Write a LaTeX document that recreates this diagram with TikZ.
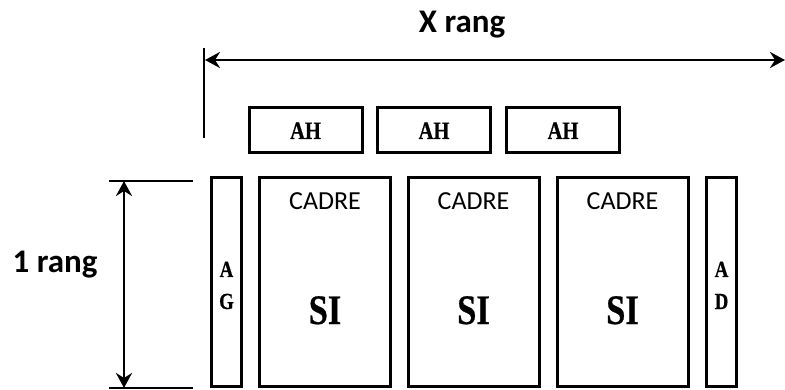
\documentclass[tikz,border=0pt]{standalone}
\usepackage{fontspec}
\setmainfont{Carlito}
\newfontfamily\serifb[FakeStretch=0.82,FakeBold=0.6]{Liberation Serif Bold}
\usetikzlibrary{arrows.meta}
\begin{document}
\begin{tikzpicture}[x=1pt,y=-1pt,
  box/.style={draw,line width=3pt,inner sep=0pt},
  sidebox/.style={box,minimum width=30pt,minimum height=209pt},
  cadrebox/.style={box,minimum width=131pt,minimum height=209pt},
  ahbox/.style={box,minimum width=113pt,minimum height=45pt},
  cadretxt/.style={anchor=base,inner sep=0pt,font=\fontsize{26}{30}\selectfont},
  sitxt/.style={anchor=base,inner sep=0pt,font=\serifb\fontsize{42}{48}\selectfont},
  ahtxt/.style={anchor=base,inner sep=0pt,font=\serifb\fontsize{25}{28}\selectfont},
  lettxt/.style={anchor=base,inner sep=0pt,font=\serifb\fontsize{23}{26}\selectfont},
  dimtxt/.style={anchor=base,inner sep=0pt,font=\bfseries\fontsize{33}{38}\selectfont},
  dimarrow/.style={line width=2.4pt,{Stealth[length=15pt,width=16pt,inset=5pt]}-{Stealth[length=15pt,width=16pt,inset=5pt]}},
  refline/.style={line width=1.5pt}]
\useasboundingbox (0,0) rectangle (785,390);
% side boxes
\node[sidebox] (AG) at (226.5,282) {};
\node[sidebox] (AD) at (721.5,282) {};
% cadre boxes
\node[cadrebox] (C1) at (325,282) {};
\node[cadrebox] (C2) at (473.5,282) {};
\node[cadrebox] (C3) at (622.5,282) {};
% AH boxes
\node[ahbox] (AH1) at (305.5,130) {};
\node[ahbox] (AH2) at (434,130) {};
\node[ahbox] (AH3) at (563,130) {};
% texts
\node[ahtxt] (t1) at (305.5,139) {AH};
\node[ahtxt] (t2) at (434,139) {AH};
\node[ahtxt] (t3) at (563,139) {AH};
\node[cadretxt] (c1) at (325,210) {CADRE};
\node[cadretxt] (c2) at (473.5,210) {CADRE};
\node[cadretxt] (c3) at (622.5,210) {CADRE};
\node[sitxt] (s1) at (325,324) {SI};
\node[sitxt] (s2) at (473.5,324) {SI};
\node[sitxt] (s3) at (622.5,324) {SI};
\node[lettxt] (ga) at (226.5,277) {A};
\node[lettxt] (gg) at (226.5,309) {G};
\node[lettxt] (da) at (721.5,277) {A};
\node[lettxt] (dd) at (721.5,309) {D};
% dimension X rang
\node[dimtxt] (xr) at (462,33) {X rang};
\coordinate (xl) at (205,60);
\coordinate (xe) at (785,60);
\draw[dimarrow] (xl) -- (xe);
\coordinate (vt) at (204,48);
\coordinate (vb) at (204,138);
\draw[refline] (vt) -- (vb);
% dimension 1 rang
\node[dimtxt] (onr) at (55,273) {1 rang};
\coordinate (rt1) at (109,181);
\coordinate (rt2) at (193,181);
\coordinate (rb1) at (109,388);
\coordinate (rb2) at (193,388);
\draw[refline] (rt1) -- (rt2);
\draw[refline] (rb1) -- (rb2);
\coordinate (at) at (124,181);
\coordinate (ab) at (124,388);
\draw[dimarrow] (at) -- (ab);
\end{tikzpicture}
\end{document}
